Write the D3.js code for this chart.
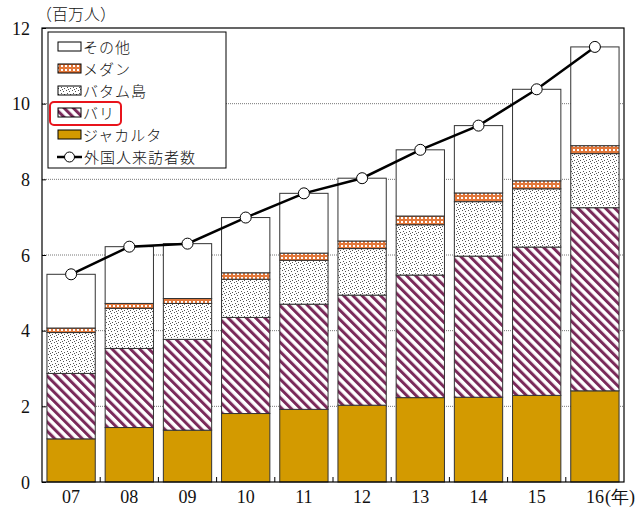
<!DOCTYPE html>
<html lang="ja">
<head>
<meta charset="utf-8">
<title>Indonesia visitors</title>
<script src="https://cdn.jsdelivr.net/npm/d3@7"></script>
<style>
  body { margin: 0; background: #fff; }
  .num { font-family: "Liberation Serif", "Times New Roman", serif; font-size: 18px; fill: #111; }
  .jp { font-family: "Noto Sans CJK JP", sans-serif; font-size: 16px; fill: #111; font-weight: 300; }
  .lg { font-size: 15px; letter-spacing: 1px; }
</style>
</head>
<body>
<svg id="chart" width="639" height="508"></svg>
<script>
// values in millions of people
var years = ["07", "08", "09", "10", "11", "12", "13", "14", "15", "16"];
var jakarta = [1.14, 1.44, 1.37, 1.81, 1.92, 2.03, 2.23, 2.24, 2.29, 2.41];
var bali    = [1.73, 2.09, 2.40, 2.54, 2.78, 2.91, 3.24, 3.73, 3.92, 4.84];
var batam   = [1.08, 1.06, 0.95, 1.01, 1.16, 1.23, 1.33, 1.44, 1.54, 1.43];
var medan   = [0.12, 0.13, 0.13, 0.17, 0.19, 0.20, 0.23, 0.23, 0.21, 0.21];
var other   = [1.42, 1.50, 1.45, 1.46, 1.58, 1.66, 1.75, 1.78, 2.42, 2.61];
var visitors = [5.49, 6.22, 6.30, 6.99, 7.63, 8.03, 8.78, 9.42, 10.38, 11.50];
var yTicks = [0, 2, 4, 6, 8, 10, 12];

var seriesKeys = ["jakarta", "bali", "batam", "medan", "other"];
var seriesNames = {jakarta: "ジャカルタ", bali: "バリ", batam: "バタム島", medan: "メダン", other: "その他"};

var rows = years.map(function(y, i) {
  return {year: y, jakarta: jakarta[i], bali: bali[i], batam: batam[i], medan: medan[i], other: other[i], visitors: visitors[i]};
});

var svg = d3.select("#chart");
var plotL = 42, plotR = 624, plotT = 28, plotB = 482;

var x = d3.scaleBand().domain(years).range([plotL, plotR]).paddingInner(0.17).paddingOuter(0.085);
var y = d3.scaleLinear().domain([0, 12]).range([plotB, plotT]);

// patterns
var defs = svg.append("defs");
var stripe = defs.append("pattern").attr("id", "p-bali").attr("patternUnits", "userSpaceOnUse")
  .attr("width", 6.5).attr("height", 6.5).attr("patternTransform", "rotate(-45)");
stripe.append("rect").attr("width", 6.5).attr("height", 6.5).attr("fill", "#fff");
stripe.append("rect").attr("width", 3).attr("height", 6.5).attr("fill", "#7a2a5a");

var dots = defs.append("pattern").attr("id", "p-batam").attr("patternUnits", "userSpaceOnUse")
  .attr("width", 6).attr("height", 6);
dots.append("rect").attr("width", 6).attr("height", 6).attr("fill", "#fff");
[[0, 0], [3, 1], [1, 3], [4, 4], [2, 5]].forEach(function(p) {
  dots.append("rect").attr("x", p[0]).attr("y", p[1]).attr("width", 1).attr("height", 1).attr("fill", "#555");
});

var check = defs.append("pattern").attr("id", "p-medan").attr("patternUnits", "userSpaceOnUse")
  .attr("width", 4).attr("height", 4);
check.append("rect").attr("width", 4).attr("height", 4).attr("fill", "#e2773a");
check.append("rect").attr("x", 1).attr("y", 1).attr("width", 2).attr("height", 2).attr("fill", "#fff");

var fills = {jakarta: "#d39a00", bali: "url(#p-bali)", batam: "url(#p-batam)", medan: "url(#p-medan)", other: "#fff"};

// gridlines
svg.append("g").selectAll("line")
  .data(yTicks.filter(function(t) { return t > 0 && t < 12; }))
  .enter().append("line")
  .attr("x1", plotL).attr("x2", plotR)
  .attr("y1", function(d) { return y(d); }).attr("y2", function(d) { return y(d); })
  .attr("stroke", "#777").attr("stroke-width", 1).attr("stroke-dasharray", "1,1");

// stacked bars
var stack = d3.stack().keys(seriesKeys)(rows);
svg.append("g").selectAll("g")
  .data(stack).enter().append("g")
    .attr("fill", function(d) { return fills[d.key]; })
  .selectAll("rect")
  .data(function(d) { return d; })
  .enter().append("rect")
    .attr("x", function(d) { return x(d.data.year); })
    .attr("y", function(d) { return y(d[1]); })
    .attr("width", x.bandwidth())
    .attr("height", function(d) { return y(d[0]) - y(d[1]); })
    .attr("stroke", "#333").attr("stroke-width", 1);

// frame
svg.append("rect").attr("x", plotL).attr("y", plotT).attr("width", plotR - plotL).attr("height", plotB - plotT)
  .attr("fill", "none").attr("stroke", "#000").attr("stroke-width", 1.2);

// y axis
var yAxis = d3.axisLeft(y).tickValues(yTicks).tickSize(-4).tickPadding(12).tickFormat(d3.format("d"));
var gy = svg.append("g").attr("transform", "translate(" + plotL + ",0)").call(yAxis);
gy.select(".domain").remove();
gy.selectAll("text").attr("class", "num").attr("font-family", null).attr("font-size", null).attr("dy", "0.35em");
gy.selectAll("line").attr("stroke", "#000");

// x axis: ticks at band boundaries, labels under bars
var bounds = years.slice(1).map(function(yr) { return x(yr) - x.step() * x.paddingInner() / 2; });
svg.append("g").selectAll("line").data(bounds).enter().append("line")
  .attr("x1", function(d) { return d; }).attr("x2", function(d) { return d; })
  .attr("y1", plotB).attr("y2", plotB - 5)
  .attr("stroke", "#000");

svg.append("g").selectAll("text").data(years).enter().append("text")
  .attr("class", "num")
  .attr("x", function(d) { return x(d) + x.bandwidth() / 2; })
  .attr("y", 503)
  .attr("text-anchor", "middle")
  .text(function(d) { return d; });
svg.append("text").attr("class", "num")
  .attr("x", x("16") + x.bandwidth() / 2 + 10).attr("y", 503)
  .text("(年)");

svg.append("text").attr("class", "jp").attr("x", 36).attr("y", 20).text("（百万人）");

// visitor line
var line = d3.line()
  .x(function(d) { return x(d.year) + x.bandwidth() / 2; })
  .y(function(d) { return y(d.visitors); });
svg.append("path").datum(rows).attr("d", line)
  .attr("fill", "none").attr("stroke", "#000").attr("stroke-width", 2.5);
svg.append("g").selectAll("circle").data(rows).enter().append("circle")
  .attr("cx", function(d) { return x(d.year) + x.bandwidth() / 2; })
  .attr("cy", function(d) { return y(d.visitors); })
  .attr("r", 5.5).attr("fill", "#fff").attr("stroke", "#000").attr("stroke-width", 1);

// legend
var lg = svg.append("g");
lg.append("rect").attr("x", 48).attr("y", 32).attr("width", 178).attr("height", 136)
  .attr("fill", "#fff").attr("stroke", "#000").attr("stroke-width", 1);
var legendKeys = ["other", "medan", "batam", "bali", "jakarta"];
legendKeys.forEach(function(k, i) {
  var cy = 47 + i * 22;
  lg.append("rect").attr("x", 58).attr("y", cy - 5).attr("width", 23).attr("height", 9)
    .attr("fill", fills[k]).attr("stroke", "#000").attr("stroke-width", 1);
  lg.append("text").attr("class", "jp lg").attr("x", 83).attr("y", cy + 5.5).text(seriesNames[k]);
});
var ly = 47 + 5 * 22;
lg.append("line").attr("x1", 57).attr("x2", 82).attr("y1", ly).attr("y2", ly)
  .attr("stroke", "#000").attr("stroke-width", 2.5);
lg.append("circle").attr("cx", 69.5).attr("cy", ly).attr("r", 5).attr("fill", "#fff").attr("stroke", "#000");
lg.append("text").attr("class", "jp lg").attr("x", 84).attr("y", ly + 5.5).text("外国人来訪者数");

// highlight around Bali legend item
lg.append("rect").attr("x", 50).attr("y", 102).attr("width", 71).attr("height", 23).attr("rx", 4)
  .attr("fill", "none").attr("stroke", "#e8141c").attr("stroke-width", 2);
</script>
</body>
</html>
